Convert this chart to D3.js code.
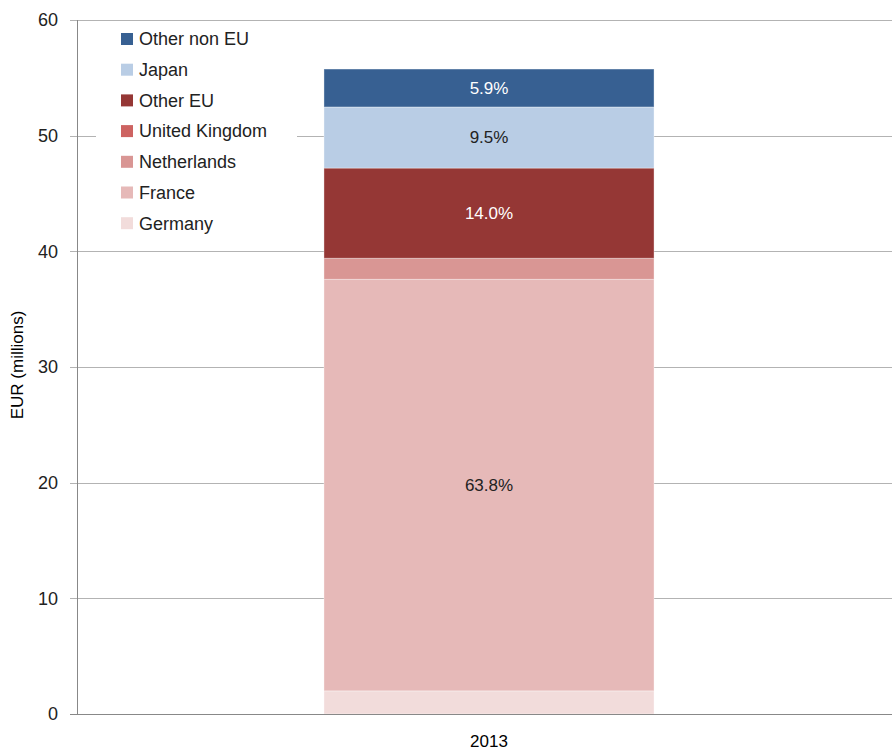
<!DOCTYPE html>
<html>
<head>
<meta charset="utf-8">
<script src="https://cdn.jsdelivr.net/npm/d3@7"></script>
<style>
body { margin: 0; background: #fff; }
text { font-family: "Liberation Sans", Arial, sans-serif; }
</style>
</head>
<body>
<script>
// data (EUR millions, 2013)
var years = ["2013"];
var countries = ["Germany", "France", "Netherlands", "United Kingdom", "Other EU", "Japan", "Other non EU"];
var values = [2.0, 35.58, 1.82, 0.0, 7.8, 5.28, 3.28];
var colors = ["#f2dcdb", "#e6b9b8", "#d99694", "#cd6361", "#953735", "#b9cde5", "#376092"];
var labelColors = ["#000", "#222", "#222", "#fff", "#fff", "#222", "#fff"];
var yTicks = [0, 10, 20, 30, 40, 50, 60];

var width = 892, height = 752;
var plotLeft = 77, plotTop = 20, plotBottom = 714;

var svg = d3.select("body").append("svg")
  .attr("width", width)
  .attr("height", height);

var y = d3.scaleLinear().domain([0, 60]).range([plotBottom, plotTop]);
var x = d3.scaleBand().domain(years).range([plotLeft, 901]).padding(0.428);

// gridlines
svg.selectAll("line.grid")
  .data(yTicks.filter(function(d) { return d > 0; })).enter().append("line")
  .attr("x1", plotLeft - 7).attr("x2", width)
  .attr("y1", function(d) { return Math.round(y(d)) + 0.5; })
  .attr("y2", function(d) { return Math.round(y(d)) + 0.5; })
  .attr("stroke", "#b3b3b3").attr("stroke-width", 1);

// stacked segments
var total = d3.sum(values);
var stack = [], acc = 0;
for (var i = 0; i < values.length; i++) {
  stack.push({ name: countries[i], v: values[i], y0: acc, y1: acc + values[i], c: colors[i], lc: labelColors[i] });
  acc += values[i];
}
svg.selectAll("rect.seg")
  .data(stack.filter(function(d) { return d.v > 0; })).enter().append("rect")
  .attr("x", x("2013"))
  .attr("width", x.bandwidth())
  .attr("y", function(d) { return y(d.y1); })
  .attr("height", function(d) { return y(d.y0) - y(d.y1); })
  .attr("fill", function(d) { return d.c; })
  .attr("stroke", "#fff").attr("stroke-opacity", 0.35).attr("stroke-width", 1);

// percentage labels on the larger segments
svg.selectAll("text.pct")
  .data(stack.filter(function(d) { return d.v / total > 0.05; })).enter().append("text")
  .attr("x", x("2013") + x.bandwidth() / 2)
  .attr("y", function(d) { return (y(d.y0) + y(d.y1)) / 2; })
  .attr("dy", "0.35em")
  .attr("text-anchor", "middle")
  .attr("font-size", 17)
  .attr("fill", function(d) { return d.lc; })
  .text(function(d) { return (d.v / total * 100).toFixed(1) + "%"; });

// axes lines
svg.append("line").attr("x1", plotLeft + 0.5).attr("x2", plotLeft + 0.5)
  .attr("y1", plotTop).attr("y2", plotBottom).attr("stroke", "#888");
svg.append("line").attr("x1", plotLeft - 7).attr("x2", width)
  .attr("y1", plotBottom + 0.5).attr("y2", plotBottom + 0.5).attr("stroke", "#888");

// y tick labels
svg.selectAll("text.ytick")
  .data(yTicks).enter().append("text")
  .attr("x", 58)
  .attr("y", function(d) { return y(d); })
  .attr("dy", "0.35em")
  .attr("text-anchor", "end")
  .attr("font-size", 18)
  .attr("fill", "#222")
  .text(function(d) { return d; });

svg.append("text")
  .attr("transform", "translate(23,365) rotate(-90)")
  .attr("text-anchor", "middle")
  .attr("font-size", 17)
  .attr("fill", "#000")
  .text("EUR (millions)");

// category label
svg.selectAll("text.xlab")
  .data(years).enter().append("text")
  .attr("x", function(d) { return x(d) + x.bandwidth() / 2; })
  .attr("y", 741)
  .attr("dy", "0.35em")
  .attr("text-anchor", "middle")
  .attr("font-size", 17)
  .attr("fill", "#000")
  .text(function(d) { return d; });

// legend (top entry = last series)
var leg = svg.append("g");
leg.append("rect").attr("x", 96).attr("y", 24).attr("width", 201).attr("height", 214).attr("fill", "#fff");
var legItems = stack.slice().reverse();
var row = leg.selectAll("g.item").data(legItems).enter().append("g")
  .attr("transform", function(d, i) { return "translate(121," + (39 + i * 30.7) + ")"; });
row.append("rect").attr("x", 0).attr("y", -6).attr("width", 12).attr("height", 12)
  .attr("fill", function(d) { return d.c; });
row.append("text").attr("x", 18).attr("dy", "0.35em")
  .attr("font-size", 18).attr("fill", "#222")
  .text(function(d) { return d.name; });
</script>
</body>
</html>
